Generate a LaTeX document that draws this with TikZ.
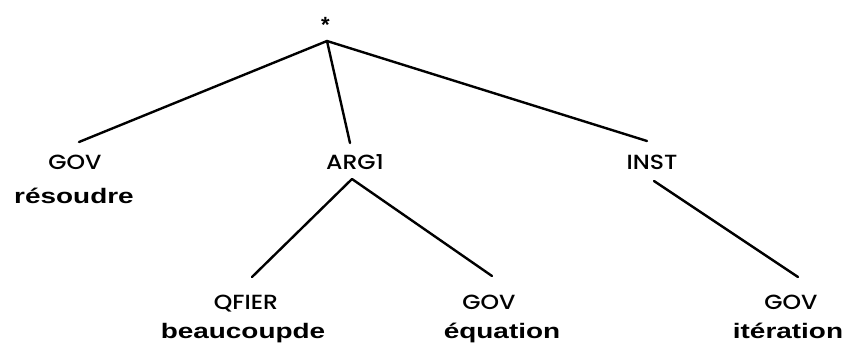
\documentclass[tikz,border=0pt]{standalone}
\usepackage{fontspec}
\newfontfamily\labfont{Poppins Medium}
\newfontfamily\wordfont{Liberation Sans Bold}
\newcommand\stretchcat[1]{\scalebox{1.15}[1]{#1}}
\newcommand\stretchword[1]{\scalebox{1.33}[1]{#1}}
\begin{document}
\begin{tikzpicture}[x=1pt,y=-1pt,
  cat/.style={font=\labfont\fontsize{20.5}{22}\selectfont, anchor=base, inner sep=0pt},
  word/.style={font=\wordfont\fontsize{21}{23}\selectfont, anchor=base, inner sep=0pt},
  edge/.style={line width=2.4pt, line cap=round}]
\useasboundingbox (0,0) rectangle (847,346);
% root
\node[font=\wordfont\fontsize{22}{24}\selectfont, anchor=base, inner sep=0pt] (root) at (325.5,32) {*};
\coordinate (rootb) at (327,41);
% level 1
\node[cat] (gov1) at (75,169) {\stretchcat{GOV}};
\node[word] (w1) at (74,203) {\stretchword{résoudre}};
\node[cat] (arg1) at (355,169) {\stretchcat{ARG1}};
\node[cat] (inst) at (652,169) {\stretchcat{INST}};
\coordinate (gov1t) at (79,142);
\coordinate (arg1t) at (350,143);
\coordinate (instt) at (647,141);
\coordinate (arg1b) at (352,179);
\coordinate (instb) at (654,181);
% level 2
\node[cat] (qfier) at (246,309) {\stretchcat{QFIER}};
\node[word] (w2) at (243,338) {\stretchword{beaucoupde}};
\node[cat] (gov2) at (489,309) {\stretchcat{GOV}};
\node[word] (w3) at (502,338) {\stretchword{équation}};
\node[cat] (gov3) at (791,309) {\stretchcat{GOV}};
\node[word] (w4) at (788,338) {\stretchword{itération}};
\coordinate (qfiert) at (252,277);
\coordinate (gov2t) at (492,276);
\coordinate (gov3t) at (798,277);
% edges
\draw[edge] (rootb) -- (gov1t);
\draw[edge] (rootb) -- (arg1t);
\draw[edge] (rootb) -- (instt);
\draw[edge] (arg1b) -- (qfiert);
\draw[edge] (arg1b) -- (gov2t);
\draw[edge] (instb) -- (gov3t);
\end{tikzpicture}
\end{document}
